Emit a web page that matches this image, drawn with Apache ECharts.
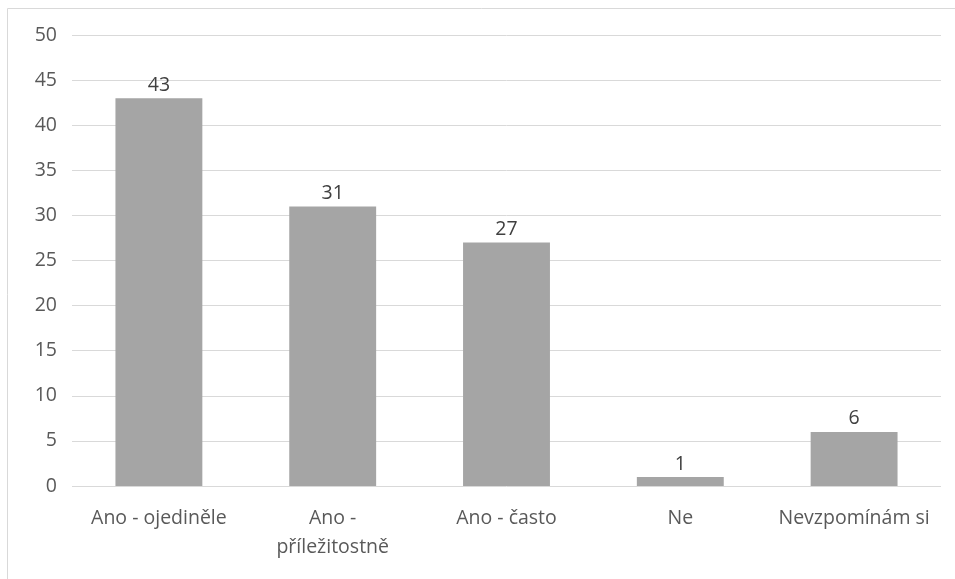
<!DOCTYPE html>
<html><head><meta charset="utf-8">
<script src="https://cdn.jsdelivr.net/npm/echarts@6/dist/echarts.min.js"></script>
<style>html,body{margin:0;padding:0;background:#fff}#c{width:955px;height:579px}</style>
</head><body><div id="c"></div>
<script>
const categories = ["Ano - ojediněle", "Ano - příležitostně", "Ano - často", "Ne", "Nevzpomínám si"];
const values = [43, 31, 27, 1, 6];
const yTicks = { min: 0, max: 50, interval: 5 };

const chart = echarts.init(document.getElementById('c'));
const font = '"Open Sans", "Noto Sans", sans-serif';
chart.setOption({
  animation: false,
  graphic: [{ type: 'rect', shape: { x: 7.5, y: 8.5, width: 960, height: 600 }, style: { fill: 'none', stroke: '#D9D9D9', lineWidth: 1 }, silent: true }],
  grid: { left: 72, right: 14, top: 35, bottom: 93 },
  xAxis: {
    type: 'category', data: categories,
    axisLine: { show: false }, axisTick: { show: false },
    axisLabel: {
      color: '#595959', fontSize: 19.5, fontFamily: font, margin: 18, lineHeight: 29, interval: 0, hideOverlap: false,
      formatter: v => v.length > 16 ? v.replace(' - ', ' -\n') : v
    }
  },
  yAxis: {
    type: 'value', min: yTicks.min, max: yTicks.max, interval: yTicks.interval,
    axisLine: { show: false }, axisTick: { show: false },
    splitLine: { lineStyle: { color: '#D9D9D9', width: 1 } },
    axisLabel: { color: '#595959', fontSize: 19.5, fontFamily: font, margin: 15 }
  },
  series: [{
    type: 'bar', data: values, barWidth: '50%',
    itemStyle: { color: '#A5A5A5' },
    label: { show: true, position: 'top', color: '#404040', fontSize: 19.5, fontFamily: font, distance: 3 }
  }]
});
</script></body></html>
